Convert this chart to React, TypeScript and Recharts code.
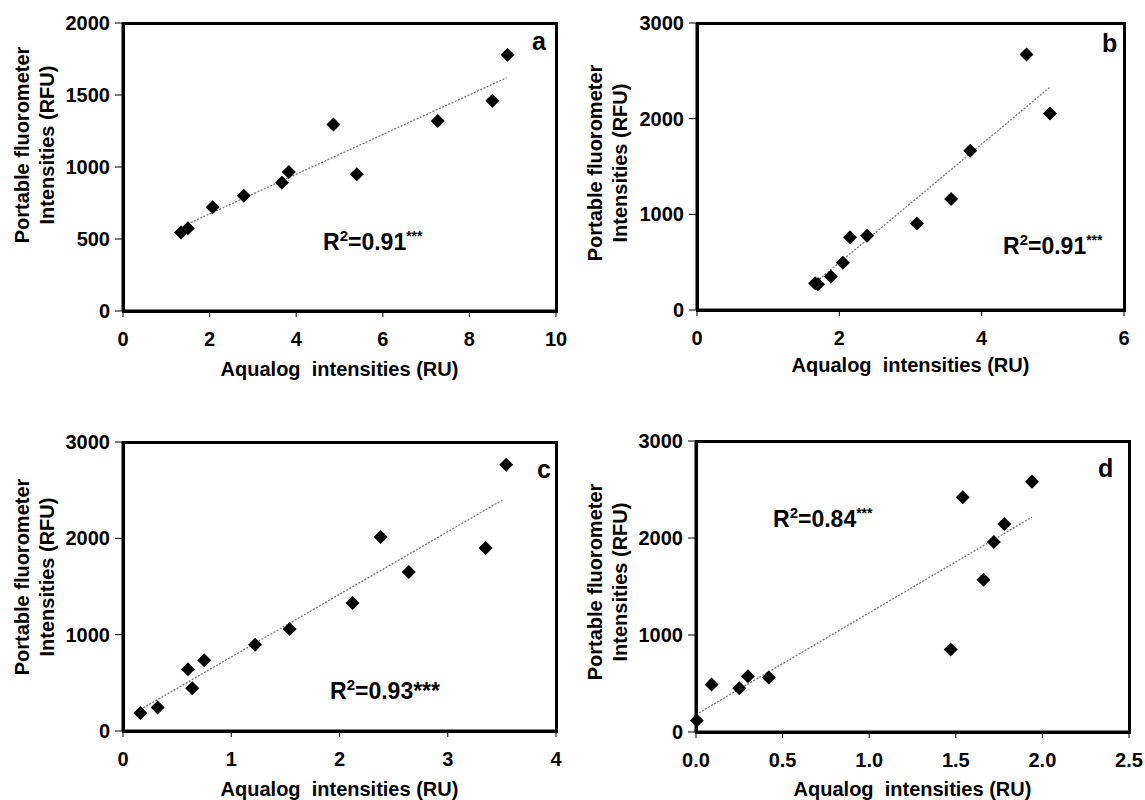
import { ScatterChart, Scatter, XAxis, YAxis, ReferenceLine } from 'recharts';

const FONT = '"Liberation Sans", Arial, Helvetica, sans-serif';

// panel a
const aqualogA = [1.34, 1.5, 2.07, 2.79, 3.67, 3.83, 4.86, 5.4, 7.27, 8.53, 8.88];
const portableA = [545, 575, 720, 800, 890, 965, 1295, 950, 1320, 1460, 1780];
const trendA = [{ x: 1.49, y: 604 }, { x: 8.86, y: 1620 }];
const xTicksA = [0, 2, 4, 6, 8, 10];
const yTicksA = [0, 500, 1000, 1500, 2000];

// panel b
const aqualogB = [1.66, 1.7, 1.88, 2.05, 2.15, 2.39, 3.09, 3.57, 3.84, 4.63, 4.96];
const portableB = [280, 270, 350, 495, 760, 775, 905, 1160, 1665, 2670, 2055];
const trendB = [{ x: 1.72, y: 321 }, { x: 4.96, y: 2329 }];
const xTicksB = [0, 2, 4, 6];
const yTicksB = [0, 1000, 2000, 3000];

// panel c
const aqualogC = [0.16, 0.32, 0.6, 0.64, 0.75, 1.22, 1.54, 2.12, 2.38, 2.64, 3.35, 3.54];
const portableC = [187, 245, 640, 445, 735, 895, 1060, 1330, 2015, 1650, 1900, 2765];
const trendC = [{ x: 0.16, y: 222 }, { x: 3.52, y: 2407 }];
const xTicksC = [0, 1, 2, 3, 4];
const yTicksC = [0, 1000, 2000, 3000];

// panel d
const aqualogD = [0.004, 0.09, 0.25, 0.3, 0.42, 1.47, 1.54, 1.66, 1.72, 1.78, 1.94];
const portableD = [118, 490, 450, 575, 563, 850, 2420, 1570, 1960, 2145, 2580];
const trendD = [{ x: 0, y: 180 }, { x: 1.94, y: 2215 }];
const xTicksD = [0, 0.5, 1, 1.5, 2, 2.5];
const yTicksD = [0, 1000, 2000, 3000];

const tickStyle = { fill: '#000', fontSize: 20, fontWeight: 'bold', fontFamily: FONT };

const Diamond = (props: any) => {
  const { cx, cy } = props;
  if (cx == null || cy == null) return null;
  const r = 7;
  return <path d={`M${cx},${cy - r}L${cx + r},${cy}L${cx},${cy + r}L${cx - r},${cy}Z`} fill="#000" />;
};

interface PanelProps {
  left: number;
  top: number;
  width: number;
  margin: { top: number; right: number; bottom: number; left: number };
  yAxisWidth: number;
  xs: number[];
  ys: number[];
  trend: { x: number; y: number }[];
  xTicks: number[];
  yTicks: number[];
  xFmt?: (v: number) => string;
}

function Panel({ left, top, width, margin, yAxisWidth, xs, ys, trend, xTicks, yTicks, xFmt }: PanelProps) {
  const data = xs.map((x, i) => ({ x, y: ys[i] }));
  const x0 = xTicks[0];
  const x1 = xTicks[xTicks.length - 1];
  const y0 = yTicks[0];
  const y1 = yTicks[yTicks.length - 1];

  // plot box, used for the frame drawn around it
  const plotLeft = margin.left + yAxisWidth;
  const plotTop = margin.top;
  const plotW = width - plotLeft - margin.right;
  const plotH = 400 - margin.top - margin.bottom - 60;

  return (
    <div style={{ position: 'absolute', left, top, width, height: 400 }}>
      <ScatterChart width={width} height={400} margin={margin}>
        <XAxis
          type="number"
          dataKey="x"
          domain={[x0, x1]}
          ticks={xTicks}
          interval={0}
          tickFormatter={xFmt}
          tick={tickStyle}
          tickSize={6}
          tickMargin={15}
          stroke="#000"
          axisLine={{ stroke: '#000', strokeWidth: 3 }}
          height={60}
        />
        <YAxis
          type="number"
          dataKey="y"
          domain={[y0, y1]}
          ticks={yTicks}
          interval={0}
          tick={tickStyle}
          tickSize={8}
          tickMargin={5}
          stroke="#000"
          axisLine={{ stroke: '#000', strokeWidth: 3 }}
          width={yAxisWidth}
        />
        <ReferenceLine segment={trend} stroke="#7a7a7a" strokeWidth={1.3} strokeDasharray="2 1.5" />
        <Scatter data={data} shape={Diamond} isAnimationActive={false} />
      </ScatterChart>
      <div
        style={{
          position: 'absolute',
          left: plotLeft - 1.5,
          top: plotTop - 1.5,
          width: plotW + 3,
          height: plotH + 3,
          border: '3px solid #000',
          boxSizing: 'border-box',
          pointerEvents: 'none',
        }}
      />
    </div>
  );
}

const boldText = { position: 'absolute' as const, fontFamily: FONT, fontWeight: 'bold' as const, color: '#000', whiteSpace: 'pre' as const };

function XTitle({ left, width, top }: { left: number; width: number; top: number }) {
  return (
    <div style={{ ...boldText, left, top, width, textAlign: 'center', fontSize: 20, lineHeight: '20px' }}>
      {'Aqualog  intensities (RU)'}
    </div>
  );
}

function YTitle({ cx, cy }: { cx: number; cy: number }) {
  return (
    <div
      style={{
        ...boldText,
        left: cx - 150,
        top: cy - 25,
        width: 300,
        height: 50,
        textAlign: 'center',
        fontSize: 20,
        lineHeight: '25px',
        transform: 'rotate(-90deg)',
        transformOrigin: '150px 25px',
      }}
    >
      {'Portable fluorometer\nIntensities (RFU)'}
    </div>
  );
}

function RSq({ left, top, value, stars, sup }: { left: number; top: number; value: string; stars: string; sup: boolean }) {
  return (
    <div style={{ ...boldText, left, top, fontSize: 23, lineHeight: '23px' }}>
      R<sup style={{ fontSize: 15 }}>2</sup>={value}
      {sup ? <sup style={{ fontSize: 14 }}>{stars}</sup> : stars}
    </div>
  );
}

function Letter({ left, top, ch }: { left: number; top: number; ch: string }) {
  return <div style={{ ...boldText, left, top, fontSize: 25, lineHeight: '25px' }}>{ch}</div>;
}

export default function App() {
  return (
    <div style={{ position: 'absolute', left: 0, top: 0, width: 1145, height: 800, background: '#fff' }}>
      <Panel left={0} top={0} width={572} margin={{ top: 23, right: 16, bottom: 29, left: 0 }} yAxisWidth={123}
        xs={aqualogA} ys={portableA} trend={trendA} xTicks={xTicksA} yTicks={yTicksA} />
      <Panel left={572} top={0} width={573} margin={{ top: 23, right: 21, bottom: 30, left: 0 }} yAxisWidth={125}
        xs={aqualogB} ys={portableB} trend={trendB} xTicks={xTicksB} yTicks={yTicksB} />
      <Panel left={0} top={400} width={572} margin={{ top: 42, right: 16, bottom: 9, left: 0 }} yAxisWidth={123}
        xs={aqualogC} ys={portableC} trend={trendC} xTicks={xTicksC} yTicks={yTicksC} />
      <Panel left={572} top={400} width={573} margin={{ top: 41, right: 16, bottom: 8, left: 0 }} yAxisWidth={124}
        xs={aqualogD} ys={portableD} trend={trendD} xTicks={xTicksD} yTicks={yTicksD}
        xFmt={(v: number) => v.toFixed(1)} />

      <XTitle left={123} width={433} top={359} />
      <XTitle left={697} width={427} top={355} />
      <XTitle left={123} width={433} top={779} />
      <XTitle left={696} width={433} top={779} />

      <YTitle cx={35} cy={145} />
      <YTitle cx={608} cy={163} />
      <YTitle cx={35} cy={577} />
      <YTitle cx={608} cy={582} />

      <Letter left={532} top={29} ch="a" />
      <Letter left={1102} top={31} ch="b" />
      <Letter left={537} top={457} ch="c" />
      <Letter left={1098} top={456} ch="d" />

      <RSq left={323} top={224} value="0.91" stars="***" sup />
      <RSq left={1003} top={228} value="0.91" stars="***" sup />
      <RSq left={330} top={673} value="0.93" stars="***" sup={false} />
      <RSq left={773} top={501} value="0.84" stars="***" sup />
    </div>
  );
}
